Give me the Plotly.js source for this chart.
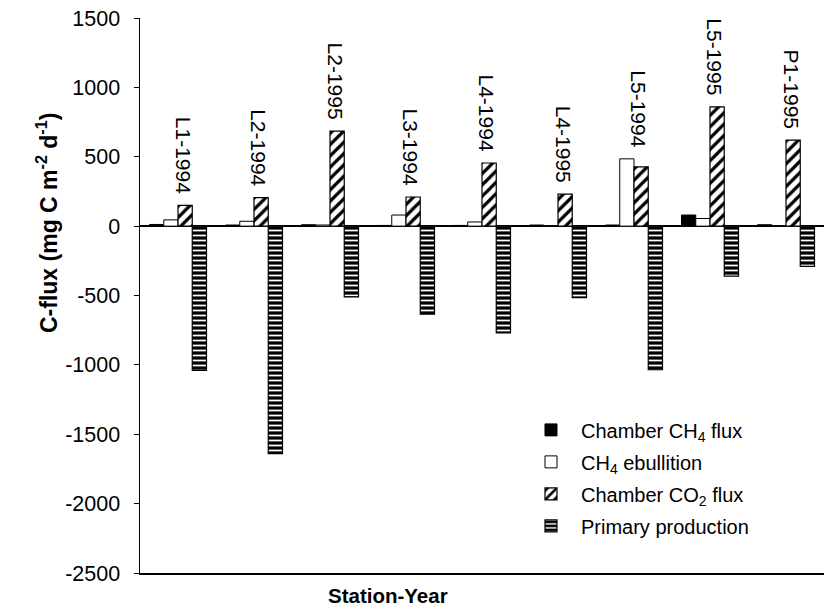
<!DOCTYPE html>
<html>
<head>
<meta charset="utf-8">
<script src="https://cdn.plot.ly/plotly-3.0.1.min.js"></script>
<style>html,body{margin:0;padding:0;background:#fff;}#chart{width:826px;height:609px;}</style>
</head>
<body>
<div id="chart"></div>
<script>
const categories = ["L1-1994","L2-1994","L2-1995","L3-1994","L4-1994","L4-1995","L5-1994","L5-1995","P1-1995"];
const chamberCH4 = [12, 8, 10, 5, 5, 8, 8, 80, 10];
const ebullitionCH4 = [45, 35, 8, 80, 30, 3, 485, 55, 3];
const chamberCO2 = [150, 205, 685, 210, 455, 230, 427, 860, 620];
const primaryProduction = [-1040, -1640, -510, -635, -770, -515, -1035, -360, -290];
const yTicks = [-2500, -2000, -1500, -1000, -500, 0, 500, 1000, 1500];

const FONT = "Liberation Sans, Arial, sans-serif";

const traces = [
  {type:'bar', name:'Chamber CH<sub>4</sub> flux', x:categories, y:chamberCH4, legendgroup:'a',
   marker:{color:'#000', line:{color:'#000', width:1}}},
  {type:'bar', name:'CH<sub>4</sub> ebullition', x:categories, y:ebullitionCH4, legendgroup:'b',
   marker:{color:'#fff', line:{color:'#000', width:1}}},
  {type:'bar', name:'Chamber CO<sub>2</sub> flux', x:categories, y:chamberCO2, legendgroup:'c',
   marker:{color:'#fff', line:{color:'#000', width:1.2},
     pattern:{shape:'/', fgcolor:'#000', bgcolor:'#fff', size:8, solidity:0.4}}},
  {type:'bar', name:'Primary production', x:categories, y:primaryProduction, legendgroup:'d',
   marker:{color:'#000', line:{color:'#000', width:1.2},
     pattern:{shape:'-', fgcolor:'#fff', bgcolor:'#000', size:5, solidity:0.35}}}
];

const annotations = categories.map((c, i) => ({
  x: c, y: Math.max(chamberCH4[i], ebullitionCH4[i], chamberCO2[i]),
  xref:'x', yref:'y', text: c, textangle: 90, showarrow:false,
  xanchor:'center', yanchor:'bottom', xshift:5, yshift:10,
  font:{family:FONT, size:21, color:'#000'}
}));
annotations.push({
  xref:'paper', yref:'paper', x:-0.135, y:0.63, textangle:-90, showarrow:false,
  xanchor:'center', yanchor:'middle',
  text:'<b>C-flux (mg C m<sup>-2</sup> d<sup>-1</sup>)</b>',
  font:{family:FONT, size:23, color:'#000'}
});
annotations.push({
  xref:'paper', yref:'paper', x:0.363, y:-0.04, showarrow:false,
  xanchor:'center', yanchor:'middle',
  text:'<b>Station-Year</b>',
  font:{family:FONT, size:20.5, color:'#000'}
});

const layout = {
  width:826, height:609,
  margin:{l:140, r:2, t:18, b:36},
  paper_bgcolor:'#fff', plot_bgcolor:'#fff',
  barmode:'group', bargap:0.25, bargroupgap:0,
  font:{family:FONT, color:'#000'},
  showlegend:true,
  legend:{x:0.557, y:0.293, xanchor:'left', yanchor:'top', bgcolor:'rgba(0,0,0,0)',
    itemwidth:50,
    font:{family:FONT, size:20, color:'#000'}, tracegroupgap:3, traceorder:'grouped'},
  xaxis:{showticklabels:false, ticks:'', showline:true, linecolor:'#000', linewidth:1.5,
    showgrid:false, zeroline:false, range:[-0.5, 8.5], fixedrange:true},
  yaxis:{range:[-2500,1500], tickvals:yTicks, ticktext:yTicks.map(String), ticks:'outside', ticklen:5,
    tickcolor:'#000', showline:true, linecolor:'#000', linewidth:1.5, showgrid:false,
    ticklabelstandoff:9,
    zeroline:true, zerolinecolor:'#000', zerolinewidth:2,
    tickfont:{family:FONT, size:21.5, color:'#000'}},
  annotations: annotations
};

Plotly.newPlot('chart', traces, layout, {displayModeBar:false, staticPlot:true});
</script>
</body>
</html>
